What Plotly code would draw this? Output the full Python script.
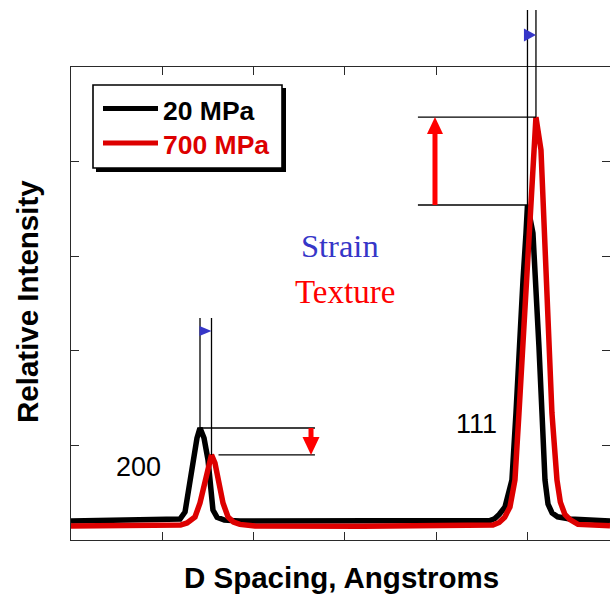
import plotly.graph_objects as go

# ---- figure geometry -------------------------------------------------------
W, H = 610, 597
L, R, T, B = 71, 0, 67, 57
X_RANGE = [0.0, 5.904]
Y_RANGE = [0.0, 5.0]

# ---- diffraction profiles (d spacing in tick units, relative intensity) ----
series_names = ["20 MPa", "700 MPa"]

d_20 = [0.0, 0.60, 1.150, 1.194, 1.249, 1.281, 1.336, 1.380, 1.413, 1.457,
        1.501, 1.533, 1.555, 1.600, 1.680, 1.851, 3.200, 4.589, 4.640, 4.690,
        4.754, 4.830, 4.874, 4.907, 4.951, 4.984, 5.000, 5.060, 5.093, 5.126,
        5.159, 5.192, 5.225, 5.270, 5.330, 5.466, 5.904]
i_20 = [0.201, 0.205, 0.208, 0.222, 0.296, 0.497, 0.846, 1.078, 1.184, 1.078,
        0.846, 0.497, 0.317, 0.240, 0.210, 0.201, 0.203, 0.205, 0.225, 0.270,
        0.349, 0.634, 1.342, 2.040, 2.748, 3.245, 3.541, 3.245, 2.748, 2.040,
        1.342, 0.634, 0.380, 0.285, 0.245, 0.222, 0.201]

d_700 = [0.0, 0.60, 1.200, 1.271, 1.358, 1.413, 1.479, 1.512, 1.539, 1.577,
         1.610, 1.665, 1.720, 1.780, 1.850, 2.015, 3.200, 4.534, 4.622, 4.690,
         4.750, 4.808, 4.863, 4.907, 4.951, 4.995, 5.005, 5.038, 5.071, 5.093,
         5.148, 5.170, 5.192, 5.203, 5.225, 5.268, 5.323, 5.360, 5.410, 5.466,
         5.553, 5.904]
i_700 = [0.148, 0.150, 0.158, 0.180, 0.243, 0.391, 0.666, 0.814, 0.899, 0.814,
         0.666, 0.391, 0.243, 0.190, 0.165, 0.148, 0.145, 0.148, 0.159, 0.185,
         0.240, 0.349, 0.634, 1.342, 2.040, 2.748, 3.066, 3.594, 4.123, 4.471,
         4.123, 3.594, 3.066, 2.748, 2.040, 1.342, 0.634, 0.400, 0.270, 0.215,
         0.165, 0.150]

reflections = ["200", "111"]

# ---- styling ---------------------------------------------------------------
BLACK = "#000000"
RED_LINE = "#dd0000"
RED_ARROW = "#ff0000"
BLUE = "#3636c8"
AXIS = "#2a2a2a"
SANS = "Liberation Sans, Arial, sans-serif"
SERIF = "Liberation Serif, Times New Roman, serif"

PW = W - L - R
PH = H - T - B
DX = (X_RANGE[1] - X_RANGE[0]) / PW   # data units per pixel
DY = (Y_RANGE[1] - Y_RANGE[0]) / PH


def xpaper(x):
    return (x - X_RANGE[0]) / (X_RANGE[1] - X_RANGE[0])


def ypaper(y):
    return (y - Y_RANGE[0]) / (Y_RANGE[1] - Y_RANGE[0])


def px_x(px):
    return (px - L) / PW


def px_y(py):
    return (H - B - py) / PH


def peak(d, inten, lo, hi):
    best = max((yy, xx) for xx, yy in zip(d, inten) if lo <= xx <= hi)
    return best[1], best[0]


bx200, by200 = peak(d_20, i_20, 0.5, 3.0)
rx200, ry200 = peak(d_700, i_700, 0.5, 3.0)
bx111, by111 = peak(d_20, i_20, 3.0, 6.0)
rx111, ry111 = peak(d_700, i_700, 3.0, 6.0)

fig = go.Figure()
fig.add_trace(go.Scatter(x=d_20, y=i_20, mode="lines", name=series_names[0],
                         line=dict(color=BLACK, width=5.5)))
fig.add_trace(go.Scatter(x=d_700, y=i_700, mode="lines", name=series_names[1],
                         line=dict(color=RED_LINE, width=5.5)))

shapes = []


def line(x0, y0, x1, y1, color=BLACK, width=1.3, ref="data"):
    r = "x" if ref == "data" else "paper"
    ry = "y" if ref == "data" else "paper"
    shapes.append(dict(type="line", xref=r, yref=ry, x0=x0, y0=y0, x1=x1, y1=y1,
                       line=dict(color=color, width=width)))


def poly(pts, color, ref="data"):
    r = "x" if ref == "data" else "paper"
    ry = "y" if ref == "data" else "paper"
    path = "M " + " L ".join(f"{a},{b}" for a, b in pts) + " Z"
    shapes.append(dict(type="path", xref=r, yref=ry, path=path,
                       fillcolor=color, line=dict(color=color, width=0)))


# --- 111 reflection: peak shift markers above the frame ---
top_p = px_y(10)
line(xpaper(bx111), ypaper(by111), xpaper(bx111), top_p, ref="paper")
line(xpaper(rx111), ypaper(ry111), xpaper(rx111), top_p, ref="paper")
tip_x = xpaper(rx111)
tri_y = px_y(35)
poly([(tip_x, tri_y), (tip_x - 12 / PW, tri_y + 6.5 / PH),
      (tip_x - 12 / PW, tri_y - 6.5 / PH)], BLUE, ref="paper")

# --- 111 reflection: intensity increase ---
left111 = 3.80
arrow111 = 3.987
line(left111, ry111, rx111, ry111)
line(left111, by111, bx111, by111)
line(arrow111, by111, arrow111, ry111 - 16 * DY, color=RED_ARROW, width=5)
poly([(arrow111 - 8 * DX, ry111 - 17 * DY), (arrow111, ry111),
      (arrow111 + 8 * DX, ry111 - 17 * DY)], RED_ARROW)

# --- 200 reflection: peak shift markers ---
top200 = 2.347
line(bx200, by200, bx200, top200)
line(rx200, ry200, rx200, top200)
tri200 = 2.209
poly([(rx200, tri200), (rx200 - 12 * DX, tri200 + 5 * DY),
      (rx200 - 12 * DX, tri200 - 5 * DY)], BLUE)

# --- 200 reflection: intensity decrease ---
right200 = 2.672
arrow200 = 2.629
line(bx200, by200, right200, by200)
line(rx200 + 7 * DX, ry200, right200, ry200)
line(arrow200, by200, arrow200, ry200 + 17 * DY, color=RED_ARROW, width=5)
poly([(arrow200 - 8.5 * DX, ry200 + 18 * DY), (arrow200, ry200),
      (arrow200 + 8.5 * DX, ry200 + 18 * DY)], RED_ARROW)

# --- legend box with drop shadow ---
shapes.append(dict(type="rect", xref="paper", yref="paper",
                   x0=px_x(96), x1=px_x(286), y0=px_y(172), y1=px_y(88),
                   fillcolor=BLACK, line=dict(width=0)))
shapes.append(dict(type="rect", xref="paper", yref="paper",
                   x0=px_x(93), x1=px_x(282), y0=px_y(168), y1=px_y(85),
                   fillcolor="white", line=dict(color=BLACK, width=1.6)))
line(px_x(103), px_y(108.5), px_x(158), px_y(108.5), color=BLACK, width=5, ref="paper")
line(px_x(103), px_y(143), px_x(158), px_y(143), color=RED_LINE, width=5, ref="paper")

annotations = []


def text(s, px, py, size, color=BLACK, family=SANS, weight="normal",
         xanchor="center", angle=0):
    annotations.append(dict(text=s, xref="paper", yref="paper",
                            x=px_x(px), y=px_y(py), xanchor=xanchor,
                            yanchor="middle", showarrow=False, textangle=angle,
                            font=dict(family=family, size=size, color=color,
                                      weight=weight)))


text(series_names[0], 161, 111, 26.5, weight="bold", xanchor="left")
text(series_names[1], 161, 145, 26.5, color=RED_LINE, weight="bold", xanchor="left")
text("Strain", 340, 246, 32.5, color=BLUE, family=SERIF)
text("Texture", 345, 292, 33, color=RED_ARROW, family=SERIF)
text(reflections[0], 138, 467, 27)
text(reflections[1], 476, 424, 27)
text("D Spacing, Angstroms", 341, 577, 29.5, weight="bold")
text("Relative Intensity", 27, 302, 29.5, weight="bold", angle=-90)

axis_common = dict(showline=True, linecolor=AXIS, linewidth=1, mirror="ticks",
                   ticks="inside", ticklen=8, tickcolor=AXIS, tickwidth=1,
                   showticklabels=False, showgrid=False, zeroline=False,
                   tick0=0, dtick=1)

fig.update_layout(
    width=W, height=H,
    margin=dict(l=L, r=R, t=T, b=B, pad=0),
    paper_bgcolor="white", plot_bgcolor="white",
    showlegend=False,
    xaxis=dict(range=X_RANGE, **axis_common),
    yaxis=dict(range=Y_RANGE, **axis_common),
    shapes=shapes,
    annotations=annotations,
)

fig.write_html("out.html")
